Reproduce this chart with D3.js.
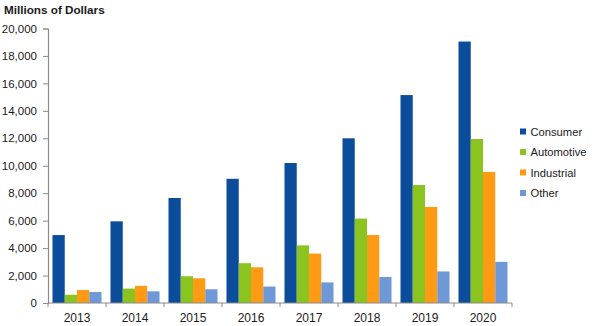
<!DOCTYPE html>
<html>
<head>
<meta charset="utf-8">
<script src="https://cdn.jsdelivr.net/npm/d3@7"></script>
<style>
  html, body { margin: 0; padding: 0; background: #fff; }
  svg { display: block; font-family: "Liberation Sans", Arial, sans-serif; }
</style>
</head>
<body>
<svg id="chart" width="600" height="326"></svg>
<script>
// Revenue by end market, millions of dollars
const years = ["2013", "2014", "2015", "2016", "2017", "2018", "2019", "2020"];
const seriesNames = ["Consumer", "Automotive", "Industrial", "Other"];
const consumer   = [4950, 5950, 7650, 9050, 10200, 12000, 15150, 19050];
const automotive = [600, 1050, 1950, 2900, 4200, 6150, 8600, 11950];
const industrial = [950, 1250, 1800, 2600, 3600, 4950, 7000, 9550];
const other      = [800, 850, 1000, 1200, 1500, 1900, 2300, 3000];
const yTicks = [0, 2000, 4000, 6000, 8000, 10000, 12000, 14000, 16000, 18000, 20000];
const colors = ["#0b4c9b", "#8cc41f", "#ff9a14", "#6f99d6"];

const seriesValues = [consumer, automotive, industrial, other];
const rows = years.map((yr, i) => ({
  year: yr,
  values: seriesNames.map((s, k) => ({ key: s, value: seriesValues[k][i] }))
}));

const svg = d3.select("#chart");
const plotLeft = 48, plotRight = 512, plotTop = 28.5, plotBottom = 303;

const x0 = d3.scaleBand().domain(years).range([plotLeft, plotRight]).paddingInner(0.155).paddingOuter(0.0775);
const x1 = d3.scaleBand().domain(seriesNames).range([0, x0.bandwidth()]);
const y = d3.scaleLinear().domain([0, 20000]).range([plotBottom, plotTop]);
const color = d3.scaleOrdinal().domain(seriesNames).range(colors);

// Bars
const groups = svg.append("g").selectAll("g").data(rows).join("g")
  .attr("transform", d => `translate(${x0(d.year)},0)`);
groups.selectAll("rect").data(d => d.values).join("rect")
  .attr("x", d => x1(d.key))
  .attr("y", d => y(d.value))
  .attr("width", x1.bandwidth())
  .attr("height", d => y(0) - y(d.value))
  .attr("fill", d => color(d.key));

// Y axis
const yAxis = svg.append("g").attr("transform", `translate(${plotLeft},0)`)
  .call(d3.axisLeft(y).tickValues(yTicks).tickFormat(d3.format(",")).tickSize(5).tickPadding(6));
yAxis.select(".domain").attr("stroke", "#8a8a8a").attr("stroke-width", 1.2);
yAxis.selectAll(".tick line").attr("stroke", "#8a8a8a");
yAxis.selectAll("text").attr("font-size", 11.5).attr("fill", "#1a1a1a")
  .attr("font-family", "'Liberation Sans', Arial, sans-serif");

// X axis: ticks sit on the boundaries between year groups
const boundaries = d3.range(years.length + 1).map(i => plotLeft + i * (plotRight - plotLeft) / years.length);
const xAxis = svg.append("g");
xAxis.append("line")
  .attr("x1", plotLeft).attr("x2", plotRight).attr("y1", plotBottom).attr("y2", plotBottom)
  .attr("stroke", "#8a8a8a").attr("stroke-width", 1.2);
xAxis.selectAll("line.tk").data(boundaries).join("line").attr("class", "tk")
  .attr("x1", d => d).attr("x2", d => d).attr("y1", plotBottom).attr("y2", plotBottom + 4)
  .attr("stroke", "#8a8a8a");
xAxis.selectAll("text").data(years).join("text")
  .attr("x", d => x0(d) + x0.bandwidth() / 2)
  .attr("y", 321.5)
  .attr("text-anchor", "middle")
  .attr("font-size", 12)
  .attr("fill", "#1a1a1a")
  .text(d => d);

// Title
svg.append("text").attr("x", 4).attr("y", 14)
  .attr("font-size", 11.7).attr("font-weight", "bold").attr("fill", "#1a1a1a")
  .text("Millions of Dollars");

// Legend
const legend = svg.append("g").selectAll("g").data(seriesNames).join("g")
  .attr("transform", (d, i) => `translate(520, ${131.5 + i * 20.5})`);
legend.append("rect").attr("x", 0).attr("y", -3).attr("width", 6).attr("height", 6)
  .attr("fill", d => color(d));
legend.append("text").attr("x", 10.5).attr("y", 4)
  .attr("font-size", 11.2).attr("fill", "#1a1a1a").text(d => d);
</script>
</body>
</html>
